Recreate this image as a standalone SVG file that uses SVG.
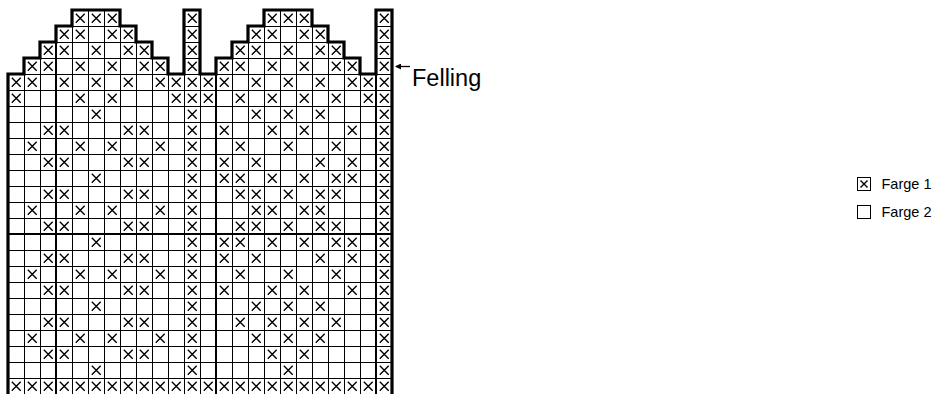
<svg xmlns="http://www.w3.org/2000/svg" xmlns:xlink="http://www.w3.org/1999/xlink" width="939" height="394" viewBox="0 0 939 394">
<style>
.grid{stroke:#000;stroke-width:1;fill:none;shape-rendering:crispEdges}
.mark{stroke:#000;stroke-width:2;fill:none}
.outline{stroke:#000;stroke-width:3.2;fill:none;stroke-linejoin:miter}
.xm{stroke:#000;stroke-width:1.4;fill:none}
.lbl{font-family:"Liberation Sans",Arial,sans-serif;fill:#000}
</style>
<defs>
<path id="x" class="xm" d="M3.8 3.8 L12.7 12.7 M12.7 3.8 L3.8 12.7"/>
<clipPath id="shape"><path d="M8,396 V74 H24 V58 H40 V42 H56 V26 H72 V10 H120 V26 H136 V42 H152 V58 H168 V74 H184 V10 H200 V74 H216 V58 H232 V42 H248 V26 H264 V10 H312 V26 H328 V42 H344 V58 H360 V74 H376 V10 H392 V396 Z"/></clipPath>
<marker id="ah" markerWidth="6" markerHeight="6" refX="5" refY="3" orient="auto" markerUnits="userSpaceOnUse"><path d="M0,0 L6,3 L0,6 Z" fill="#000"/></marker>
</defs>
<rect width="939" height="394" fill="#fff"/>
<g id="chart">
<g clip-path="url(#shape)">
<path class="grid" d="M24,0V394M40,0V394M56,0V394M72,0V394M88,0V394M104,0V394M120,0V394M136,0V394M152,0V394M168,0V394M184,0V394M200,0V394M216,0V394M232,0V394M248,0V394M264,0V394M280,0V394M296,0V394M312,0V394M328,0V394M344,0V394M360,0V394M376,0V394"/>
<path class="grid" d="M0,26H400M0,42H400M0,58H400M0,74H400M0,90H400M0,106H400M0,122H400M0,138H400M0,154H400M0,170H400M0,186H400M0,202H400M0,218H400M0,234H400M0,250H400M0,266H400M0,282H400M0,298H400M0,314H400M0,330H400M0,346H400M0,362H400M0,378H400"/>
<path class="mark" d="M56,0V394M216,0V394M376,0V394M0,234H400"/>
</g>
<g id="stitches">
<g transform="translate(0,10)"><use href="#x" x="72"/><use href="#x" x="88"/><use href="#x" x="104"/><use href="#x" x="184"/><use href="#x" x="264"/><use href="#x" x="280"/><use href="#x" x="296"/><use href="#x" x="376"/></g>
<g transform="translate(0,26)"><use href="#x" x="56"/><use href="#x" x="72"/><use href="#x" x="104"/><use href="#x" x="120"/><use href="#x" x="184"/><use href="#x" x="248"/><use href="#x" x="264"/><use href="#x" x="296"/><use href="#x" x="312"/><use href="#x" x="376"/></g>
<g transform="translate(0,42)"><use href="#x" x="40"/><use href="#x" x="56"/><use href="#x" x="88"/><use href="#x" x="120"/><use href="#x" x="136"/><use href="#x" x="184"/><use href="#x" x="232"/><use href="#x" x="248"/><use href="#x" x="280"/><use href="#x" x="312"/><use href="#x" x="328"/><use href="#x" x="376"/></g>
<g transform="translate(0,58)"><use href="#x" x="24"/><use href="#x" x="40"/><use href="#x" x="72"/><use href="#x" x="104"/><use href="#x" x="136"/><use href="#x" x="152"/><use href="#x" x="184"/><use href="#x" x="216"/><use href="#x" x="232"/><use href="#x" x="264"/><use href="#x" x="296"/><use href="#x" x="328"/><use href="#x" x="344"/><use href="#x" x="376"/></g>
<g transform="translate(0,74)"><use href="#x" x="8"/><use href="#x" x="24"/><use href="#x" x="56"/><use href="#x" x="88"/><use href="#x" x="120"/><use href="#x" x="152"/><use href="#x" x="168"/><use href="#x" x="184"/><use href="#x" x="200"/><use href="#x" x="216"/><use href="#x" x="248"/><use href="#x" x="280"/><use href="#x" x="312"/><use href="#x" x="344"/><use href="#x" x="360"/><use href="#x" x="376"/></g>
<g transform="translate(0,90)"><use href="#x" x="8"/><use href="#x" x="72"/><use href="#x" x="104"/><use href="#x" x="168"/><use href="#x" x="184"/><use href="#x" x="200"/><use href="#x" x="232"/><use href="#x" x="264"/><use href="#x" x="296"/><use href="#x" x="328"/><use href="#x" x="360"/><use href="#x" x="376"/></g>
<g transform="translate(0,106)"><use href="#x" x="88"/><use href="#x" x="184"/><use href="#x" x="248"/><use href="#x" x="280"/><use href="#x" x="312"/><use href="#x" x="376"/></g>
<g transform="translate(0,122)"><use href="#x" x="40"/><use href="#x" x="56"/><use href="#x" x="120"/><use href="#x" x="136"/><use href="#x" x="184"/><use href="#x" x="216"/><use href="#x" x="264"/><use href="#x" x="296"/><use href="#x" x="344"/><use href="#x" x="376"/></g>
<g transform="translate(0,138)"><use href="#x" x="24"/><use href="#x" x="72"/><use href="#x" x="104"/><use href="#x" x="152"/><use href="#x" x="184"/><use href="#x" x="232"/><use href="#x" x="280"/><use href="#x" x="328"/><use href="#x" x="376"/></g>
<g transform="translate(0,154)"><use href="#x" x="40"/><use href="#x" x="56"/><use href="#x" x="120"/><use href="#x" x="136"/><use href="#x" x="184"/><use href="#x" x="216"/><use href="#x" x="248"/><use href="#x" x="312"/><use href="#x" x="344"/><use href="#x" x="376"/></g>
<g transform="translate(0,170)"><use href="#x" x="88"/><use href="#x" x="184"/><use href="#x" x="216"/><use href="#x" x="232"/><use href="#x" x="264"/><use href="#x" x="296"/><use href="#x" x="328"/><use href="#x" x="344"/><use href="#x" x="376"/></g>
<g transform="translate(0,186)"><use href="#x" x="40"/><use href="#x" x="56"/><use href="#x" x="120"/><use href="#x" x="136"/><use href="#x" x="184"/><use href="#x" x="232"/><use href="#x" x="248"/><use href="#x" x="280"/><use href="#x" x="312"/><use href="#x" x="328"/><use href="#x" x="376"/></g>
<g transform="translate(0,202)"><use href="#x" x="24"/><use href="#x" x="72"/><use href="#x" x="104"/><use href="#x" x="152"/><use href="#x" x="184"/><use href="#x" x="248"/><use href="#x" x="264"/><use href="#x" x="296"/><use href="#x" x="312"/><use href="#x" x="376"/></g>
<g transform="translate(0,218)"><use href="#x" x="40"/><use href="#x" x="56"/><use href="#x" x="120"/><use href="#x" x="136"/><use href="#x" x="184"/><use href="#x" x="232"/><use href="#x" x="248"/><use href="#x" x="280"/><use href="#x" x="312"/><use href="#x" x="328"/><use href="#x" x="376"/></g>
<g transform="translate(0,234)"><use href="#x" x="88"/><use href="#x" x="184"/><use href="#x" x="216"/><use href="#x" x="232"/><use href="#x" x="264"/><use href="#x" x="296"/><use href="#x" x="328"/><use href="#x" x="344"/><use href="#x" x="376"/></g>
<g transform="translate(0,250)"><use href="#x" x="40"/><use href="#x" x="56"/><use href="#x" x="120"/><use href="#x" x="136"/><use href="#x" x="184"/><use href="#x" x="216"/><use href="#x" x="248"/><use href="#x" x="312"/><use href="#x" x="344"/><use href="#x" x="376"/></g>
<g transform="translate(0,266)"><use href="#x" x="24"/><use href="#x" x="72"/><use href="#x" x="104"/><use href="#x" x="152"/><use href="#x" x="184"/><use href="#x" x="232"/><use href="#x" x="280"/><use href="#x" x="328"/><use href="#x" x="376"/></g>
<g transform="translate(0,282)"><use href="#x" x="40"/><use href="#x" x="56"/><use href="#x" x="120"/><use href="#x" x="136"/><use href="#x" x="184"/><use href="#x" x="216"/><use href="#x" x="264"/><use href="#x" x="296"/><use href="#x" x="344"/><use href="#x" x="376"/></g>
<g transform="translate(0,298)"><use href="#x" x="88"/><use href="#x" x="184"/><use href="#x" x="248"/><use href="#x" x="280"/><use href="#x" x="312"/><use href="#x" x="376"/></g>
<g transform="translate(0,314)"><use href="#x" x="40"/><use href="#x" x="56"/><use href="#x" x="120"/><use href="#x" x="136"/><use href="#x" x="184"/><use href="#x" x="232"/><use href="#x" x="264"/><use href="#x" x="296"/><use href="#x" x="328"/><use href="#x" x="376"/></g>
<g transform="translate(0,330)"><use href="#x" x="24"/><use href="#x" x="72"/><use href="#x" x="104"/><use href="#x" x="152"/><use href="#x" x="184"/><use href="#x" x="248"/><use href="#x" x="280"/><use href="#x" x="312"/><use href="#x" x="376"/></g>
<g transform="translate(0,346)"><use href="#x" x="40"/><use href="#x" x="56"/><use href="#x" x="120"/><use href="#x" x="136"/><use href="#x" x="184"/><use href="#x" x="264"/><use href="#x" x="296"/><use href="#x" x="376"/></g>
<g transform="translate(0,362)"><use href="#x" x="88"/><use href="#x" x="184"/><use href="#x" x="280"/><use href="#x" x="376"/></g>
<g transform="translate(0,378)"><use href="#x" x="8"/><use href="#x" x="24"/><use href="#x" x="40"/><use href="#x" x="56"/><use href="#x" x="72"/><use href="#x" x="88"/><use href="#x" x="104"/><use href="#x" x="120"/><use href="#x" x="136"/><use href="#x" x="152"/><use href="#x" x="168"/><use href="#x" x="184"/><use href="#x" x="200"/><use href="#x" x="216"/><use href="#x" x="232"/><use href="#x" x="248"/><use href="#x" x="264"/><use href="#x" x="280"/><use href="#x" x="296"/><use href="#x" x="312"/><use href="#x" x="328"/><use href="#x" x="344"/><use href="#x" x="360"/><use href="#x" x="376"/></g>
</g>
<path class="outline" d="M8,398 V74 H24 V58 H40 V42 H56 V26 H72 V10 H120 V26 H136 V42 H152 V58 H168 V74 H184 V10 H200 V74 H216 V58 H232 V42 H248 V26 H264 V10 H312 V26 H328 V42 H344 V58 H360 V74 H376 V10 H392 V398"/>
</g>
<g id="felling">
<line x1="410" y1="66.5" x2="396" y2="66.5" stroke="#000" stroke-width="1.3" marker-end="url(#ah)"/>
<text class="lbl" x="412" y="86" font-size="23.5">Felling</text>
</g>
<g id="legend">
<rect x="857.5" y="177.5" width="13" height="13" fill="none" stroke="#000" stroke-width="1"/>
<path class="xm" d="M860.5 180.5 L867.5 187.5 M867.5 180.5 L860.5 187.5"/>
<text class="lbl" x="881.5" y="189" font-size="14.5">Farge 1</text>
<rect x="857.5" y="205.5" width="13" height="13" fill="none" stroke="#000" stroke-width="1"/>
<text class="lbl" x="881.5" y="217" font-size="14.5">Farge 2</text>
</g>
</svg>
